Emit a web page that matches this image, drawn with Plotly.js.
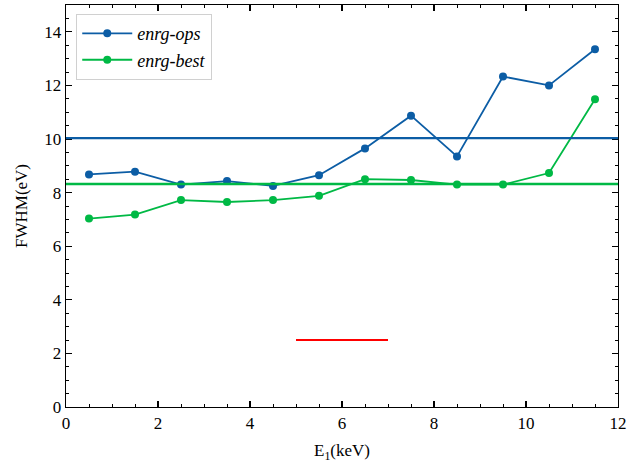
<!DOCTYPE html>
<html>
<head>
<meta charset="utf-8">
<script src="https://cdn.plot.ly/plotly-3.0.1.min.js"></script>
<style>html,body{margin:0;padding:0;background:#fff;}#chart{width:629px;height:467px;}</style>
</head>
<body>
<div id="chart"></div>
<script>
const energies = [0.5, 1.5, 2.5, 3.5, 4.5, 5.5, 6.5, 7.5, 8.5, 9.5, 10.5, 11.5];
const fwhmOps  = [8.68, 8.78, 8.30, 8.43, 8.25, 8.65, 9.65, 10.87, 9.35, 12.33, 12.00, 13.35];
const fwhmBest = [7.03, 7.18, 7.72, 7.65, 7.72, 7.88, 8.50, 8.47, 8.30, 8.30, 8.73, 11.48];
const meanOps = [10.03];
const meanBest = [8.32];
const redX = [5, 7];
const redY = [2.5, 2.5];
const seriesNames = ['<i>enrg-ops</i>', '<i>enrg-best</i>'];
const xTicks = [0, 2, 4, 6, 8, 10, 12];
const yTicks = [0, 2, 4, 6, 8, 10, 12, 14];

const blue = '#0C5DA5', green = '#00B945', red = '#FF0000';
const font = '"Liberation Serif", serif';

const traces = [
  {x: energies, y: fwhmOps, name: seriesNames[0], mode: 'lines+markers',
   line: {color: blue, width: 1.8}, marker: {color: blue, size: 8}},
  {x: energies, y: fwhmBest, name: seriesNames[1], mode: 'lines+markers',
   line: {color: green, width: 1.8}, marker: {color: green, size: 8}},
  {x: redX, y: redY, mode: 'lines', showlegend: false,
   line: {color: red, width: 2.2}}
];

const axisCommon = {
  showgrid: false, zeroline: false, showline: true, linecolor: '#000', linewidth: 1.3,
  mirror: 'ticks', ticks: 'inside', ticklen: 6, tickwidth: 1.2, tickcolor: '#000',
  tickfont: {family: font, size: 17, color: '#000'},
  minor: {dtick: 0.5, ticks: 'inside', ticklen: 3, tickwidth: 1, tickcolor: '#000'}
};

const layout = {
  width: 629, height: 467,
  margin: {l: 66, r: 11, t: 5, b: 60},
  paper_bgcolor: '#fff', plot_bgcolor: '#fff',
  font: {family: font, color: '#000'},
  showlegend: true,
  legend: {x: 0.018, y: 0.978, xanchor: 'left', yanchor: 'top',
    bgcolor: 'rgba(255,255,255,0.8)', bordercolor: '#d0d0d0', borderwidth: 1.3,
    font: {family: font, size: 18, color: '#000'}, itemwidth: 50, tracegroupgap: 0},
  xaxis: Object.assign({}, axisCommon, {range: [0, 12], tickvals: xTicks,
    title: {text: 'E<sub>1</sub>(keV)', font: {family: font, size: 17, color: '#000'}, standoff: 12}}),
  yaxis: Object.assign({}, axisCommon, {range: [0, 15], tickvals: yTicks,
    title: {text: 'FWHM(eV)', font: {family: font, size: 17, color: '#000'}, standoff: 12}}),
  shapes: [
    {type: 'line', xref: 'paper', x0: 0, x1: 1, yref: 'y', y0: meanOps[0], y1: meanOps[0],
     line: {color: blue, width: 2.3}},
    {type: 'line', xref: 'paper', x0: 0, x1: 1, yref: 'y', y0: meanBest[0], y1: meanBest[0],
     line: {color: green, width: 2.3}}
  ]
};

Plotly.newPlot('chart', traces, layout, {displayModeBar: false, staticPlot: true});
</script>
</body>
</html>
